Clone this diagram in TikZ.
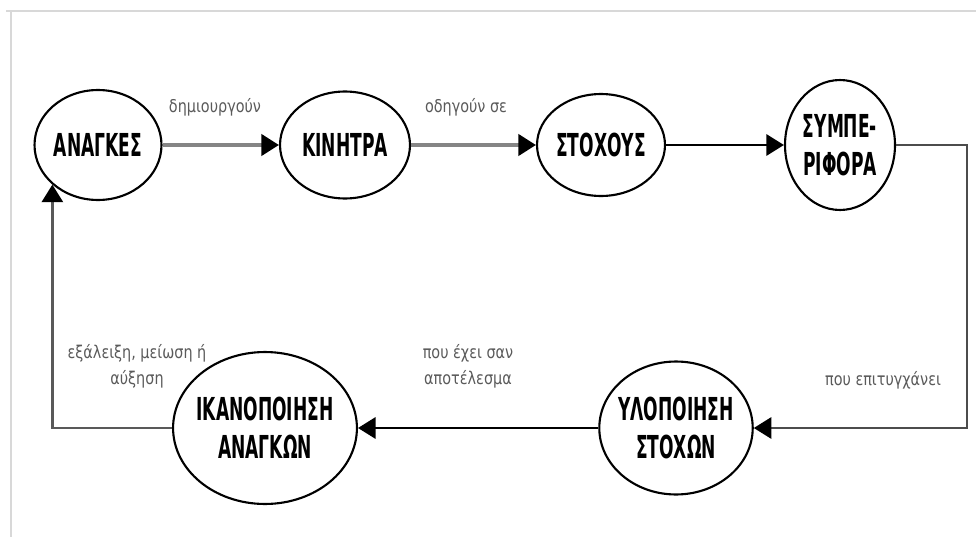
\documentclass[tikz,border=0pt]{standalone}
\usepackage{fontspec}
\usepackage{xcolor}
\usetikzlibrary{shapes.geometric,arrows.meta}
\newfontfamily\nodefont[FakeStretch=0.54]{DejaVu Sans}
\newfontfamily\labelfont[FakeStretch=0.82]{DejaVu Sans}
\definecolor{linegray}{HTML}{858585}
\definecolor{labelgray}{HTML}{5A5A5A}
\definecolor{framegray}{HTML}{D8D8D8}
\tikzset{
  need/.style={draw={black}, line width=1.2pt, ellipse, inner sep=-2pt, align=center,
    font=\nodefont\bfseries\fontsize{18}{21.5}\selectfont},
  flow/.style={line width=1.6pt, -{Triangle[length=10pt,width=12pt,black]}},
  caption/.style={text=labelgray, align=center, font=\labelfont\fontsize{10}{15}\selectfont},
}

\begin{document}
\begin{tikzpicture}[x=0.02cm, y=-0.02cm]
\useasboundingbox (0,0) rectangle (976,537);
\draw [framegray, line width=1pt] (6,11) -- (976,11);
\draw [framegray, line width=1pt] (11,11) -- (11,537);

\node [need, minimum width=2.54cm, minimum height=2.2cm] (anagkes) at (98,145) {ΑΝΑΓΚΕΣ};
\node [need, minimum width=2.6cm, minimum height=2.14cm] (kinitra) at (345,145) {ΚΙΝΗΤΡΑ};
\node [need, minimum width=2.56cm, minimum height=2.04cm] (stoxous) at (601,145) {ΣΤΟΧΟΥΣ};
\node [need, minimum width=2.2cm, minimum height=2.6cm] (symperifora) at (840,145) {ΣΥΜΠΕ-\\ΡΙΦΟΡΑ};
\node [need, minimum width=2.84cm, minimum height=2.66cm] (ylopoiisi) at (676,428) {ΥΛΟΠΟΙΗΣΗ\\ΣΤΟΧΩΝ};
\node [need, minimum width=3.4cm, minimum height=3.04cm] (ikanopoiisi) at (265,428) {ΙΚΑΝΟΠΟΙΗΣΗ\\ΑΝΑΓΚΩΝ};
\coordinate (rt) at (967,300);

\draw [flow, linegray, line width=2.2pt] (anagkes) -- (kinitra);
\draw [flow, linegray, line width=2.2pt] (kinitra) -- (stoxous);
\draw [flow] (stoxous) -- (symperifora);
\draw [flow, black!70] (symperifora.east) -| (rt) |- (ylopoiisi.east);
\draw [flow] (ylopoiisi) -- (ikanopoiisi);
\draw [flow, black!65] (ikanopoiisi.west) -| (anagkes.south west);

\node [caption] (l1) at (215,107) {δημιουργούν};
\node [caption] (l2) at (466,107) {οδηγούν σε};
\node [caption] (l3) at (883,380) {που επιτυγχάνει};
\node [caption] (l4) at (468,366) {που έχει σαν\\αποτέλεσμα};
\node [caption] (l5) at (137,366) {εξάλειξη, μείωση ή\\αύξηση};
\end{tikzpicture}
\end{document}
